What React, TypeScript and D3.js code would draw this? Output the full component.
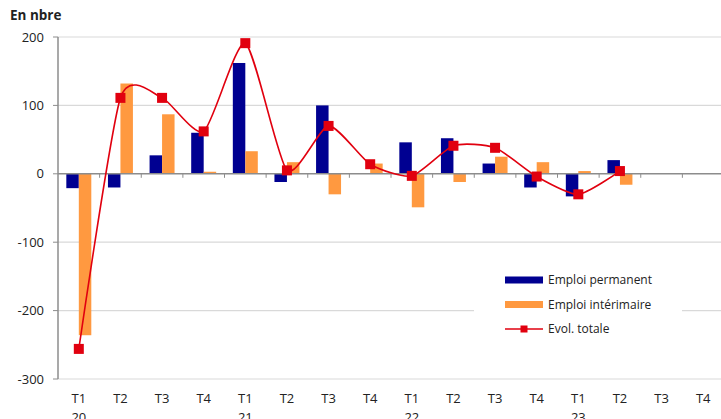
import React from "react";
import * as d3 from "d3";

const quarters = ["T1", "T2", "T3", "T4", "T1", "T2", "T3", "T4", "T1", "T2", "T3", "T4", "T1", "T2", "T3", "T4"];
const years = ["20", "", "", "", "21", "", "", "", "22", "", "", "", "23", "", "", ""];
const permanent: (number | null)[] = [-21, -20, 27, 60, 162, -12, 100, 0, 46, 52, 15, -20, -33, 20, null, null];
const interim: (number | null)[] = [-236, 132, 87, 3, 33, 17, -30, 15, -49, -12, 25, 17, 4, -16, null, null];
const total: (number | null)[] = [-256, 111, 111, 62, 191, 5, 70, 14, -3, 41, 38, -4, -30, 4, null, null];
const yTicks = [200, 100, 0, -100, -200, -300];

const BLUE = "#000091";
const ORANGE = "#FF9940";
const RED = "#E1000F";
const FONT = "'Open Sans', sans-serif";

const W = 721;
const H = 419;
const left = 58;
const right = 724;

export default function App() {
  const idx = quarters.map((_, i) => String(i));
  const x = d3.scaleBand<string>().domain(idx).range([left, right]);
  const y = d3.scaleLinear().domain([-300, 200]).range([379, 37]);
  const bw = x.bandwidth();
  const barW = bw * 0.3;
  const cx = (i: number) => (x(String(i)) as number) + bw / 2;

  const pts: [number, number][] = [];
  total.forEach((v, i) => {
    if (v !== null) pts.push([cx(i), y(v)]);
  });
  const line = d3.line().curve(d3.curveCardinal.tension(0.35))(pts) || "";

  const bar = (v: number | null, i: number, offset: number, color: string, key: string) => {
    if (v === null || v === 0) return null;
    const y0 = y(0);
    const y1 = y(v);
    return (
      <rect key={key} x={cx(i) + offset} width={barW} y={Math.min(y0, y1)} height={Math.abs(y1 - y0)} fill={color} />
    );
  };

  const legend = [
    { label: "Emploi permanent", type: "bar", color: BLUE },
    { label: "Emploi intérimaire", type: "bar", color: ORANGE },
    { label: "Evol. totale", type: "line", color: RED },
  ];

  return (
    <svg width={W} height={H} style={{ position: "absolute", left: 0, top: 0, background: "#fff" }} fontFamily={FONT}>
      <text x={10} y={20} fontSize={13.5} fontWeight="bold" fill="#222">En nbre</text>

      {yTicks.map((t) => (
        <g key={t}>
          {t !== 0 && <line x1={left} x2={W} y1={y(t)} y2={y(t)} stroke="#d9d9d9" strokeWidth={1.2} />}
          <line x1={left - 5} x2={left} y1={y(t)} y2={y(t)} stroke="#8c8c8c" />
          <text x={44} y={y(t)} dy="0.35em" textAnchor="end" fontSize={13} fill="#222">{t}</text>
        </g>
      ))}

      {/* legend backdrop hides the grid lines */}
      <rect x={474} y={258} width={208} height={88} fill="#fff" />
      {legend.map((d, i) => {
        const ly = 280 + i * 24.5;
        return (
          <g key={d.label}>
            {d.type === "bar" ? (
              <rect x={505} y={ly - 3.5} width={38} height={7} fill={d.color} />
            ) : (
              <g>
                <line x1={505} x2={543} y1={ly} y2={ly} stroke={d.color} strokeWidth={1.5} />
                <rect x={520.5} y={ly - 3.5} width={7} height={7} fill={d.color} />
              </g>
            )}
            <text x={548} y={ly} dy="0.35em" fontSize={12} fill="#222">{d.label}</text>
          </g>
        );
      })}

      {permanent.map((v, i) => bar(v, i, -barW, BLUE, "p" + i))}
      {interim.map((v, i) => bar(v, i, 0, ORANGE, "o" + i))}

      <line x1={left} x2={W} y1={y(0)} y2={y(0)} stroke="#8c8c8c" strokeWidth={1.5} />
      {idx.slice(1).map((k) => (
        <line key={k} x1={x(k)} x2={x(k)} y1={y(0)} y2={y(0) + 4} stroke="#8c8c8c" />
      ))}
      <line x1={left} x2={left} y1={y(200)} y2={y(-300)} stroke="#8c8c8c" strokeWidth={1.5} />

      <path d={line} fill="none" stroke={RED} strokeWidth={1.6} />
      {pts.map(([px, py], i) => (
        <rect key={i} x={px - 5} y={py - 5} width={10} height={10} fill={RED} />
      ))}

      {quarters.map((q, i) => (
        <g key={i}>
          <text x={cx(i)} y={403} textAnchor="middle" fontSize={13} fill="#222">{q}</text>
          {years[i] && (
            <text x={cx(i)} y={422} textAnchor="middle" fontSize={13} fill="#222">{years[i]}</text>
          )}
        </g>
      ))}
    </svg>
  );
}
